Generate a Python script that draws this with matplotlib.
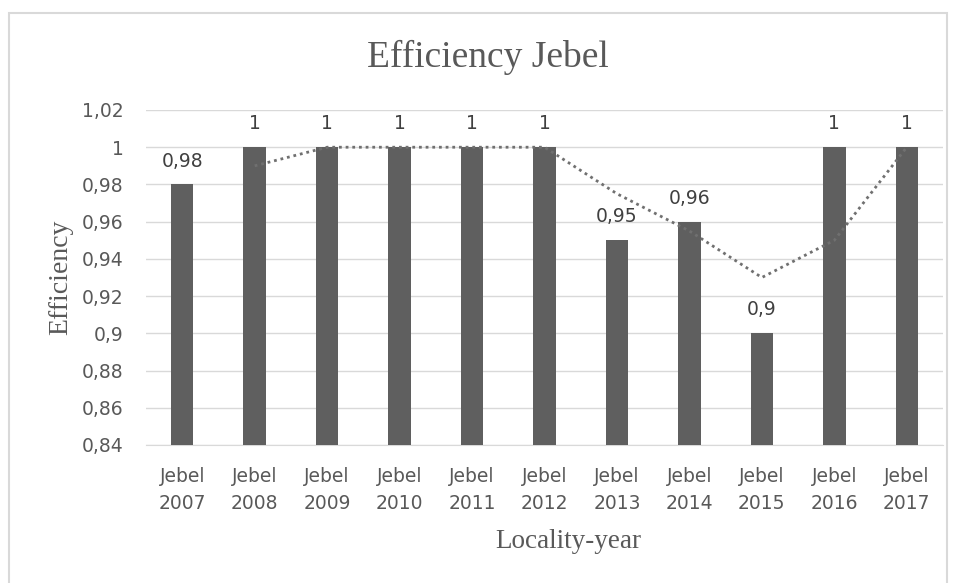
import matplotlib.pyplot as plt
from matplotlib.patches import Rectangle

years = ["2007", "2008", "2009", "2010", "2011", "2012",
         "2013", "2014", "2015", "2016", "2017"]
locality = "Jebel"
efficiency = [0.98, 1, 1, 1, 1, 1, 0.95, 0.96, 0.9, 1, 1]
value_labels = ["0,98", "1", "1", "1", "1", "1", "0,95", "0,96", "0,9", "1", "1"]
# 2-period moving average trendline (starts at 2008)
trend = [0.99, 1, 1, 1, 1, 0.975, 0.955, 0.93, 0.95, 1]
y_ticks = [0.84, 0.86, 0.88, 0.90, 0.92, 0.94, 0.96, 0.98, 1.00, 1.02]
y_tick_labels = ["0,84", "0,86", "0,88", "0,9", "0,92", "0,94", "0,96", "0,98", "1", "1,02"]

SANS = ["DejaVu Sans"]
SERIF = ["Liberation Serif", "DejaVu Serif"]
TEXT = "#595959"

fig = plt.figure(figsize=(9.58, 5.83), dpi=100)
fig.patches.append(Rectangle((9 / 958, -0.01), 938 / 958, 1.01 - 13 / 583,
                             transform=fig.transFigure, fill=False,
                             edgecolor="#d9d9d9", linewidth=1.5))
ax = fig.add_axes([146 / 958, 1 - 445 / 583, (943 - 146) / 958, (445 - 110) / 583])

x = list(range(len(years)))
ax.bar(x, [v - 0.84 for v in efficiency], bottom=0.84, width=0.31,
       color="#5f5f5f", zorder=3)
ax.plot(x[1:], trend, linestyle=(0, (1, 1.4)), color="#707070",
        linewidth=2.0, zorder=4)

for xi, v, lab in zip(x, efficiency, value_labels):
    ax.annotate(lab, (xi, v), xytext=(0, 10), textcoords="offset points",
                ha="center", va="bottom", fontsize=13.5,
                color="#404040", family=SANS)

ax.set_xlim(-0.5, len(years) - 0.5)
ax.set_ylim(0.84, 1.02)
ax.set_yticks(y_ticks)
ax.set_yticklabels(y_tick_labels, family=SANS, fontsize=13.5, color=TEXT)
ax.set_xticks(x)
ax.set_xticklabels([f"{locality}\n{y}" for y in years], family=SANS,
                   fontsize=13.5, color=TEXT, linespacing=1.55)
ax.tick_params(length=0)
ax.tick_params(axis="x", pad=16)
ax.tick_params(axis="y", pad=16)
ax.grid(axis="y", color="#d9d9d9", linewidth=1, zorder=0)
for s in ["top", "right", "left"]:
    ax.spines[s].set_visible(False)
ax.spines["bottom"].set_color("#d9d9d9")

ax.set_ylabel("Efficiency", family=SERIF, fontsize=20, color=TEXT, labelpad=6)
ax.set_xlabel("Locality-year", family=SERIF, fontsize=19.5, color=TEXT, va="center")
ax.xaxis.set_label_coords((568 - 146) / 797, (445 - 542) / 335)
fig.text(488 / 958, 1 - 57 / 583, "Efficiency Jebel",
         ha="center", va="center", family=SERIF, fontsize=27, color=TEXT)

fig.savefig("out.png", dpi=100)
